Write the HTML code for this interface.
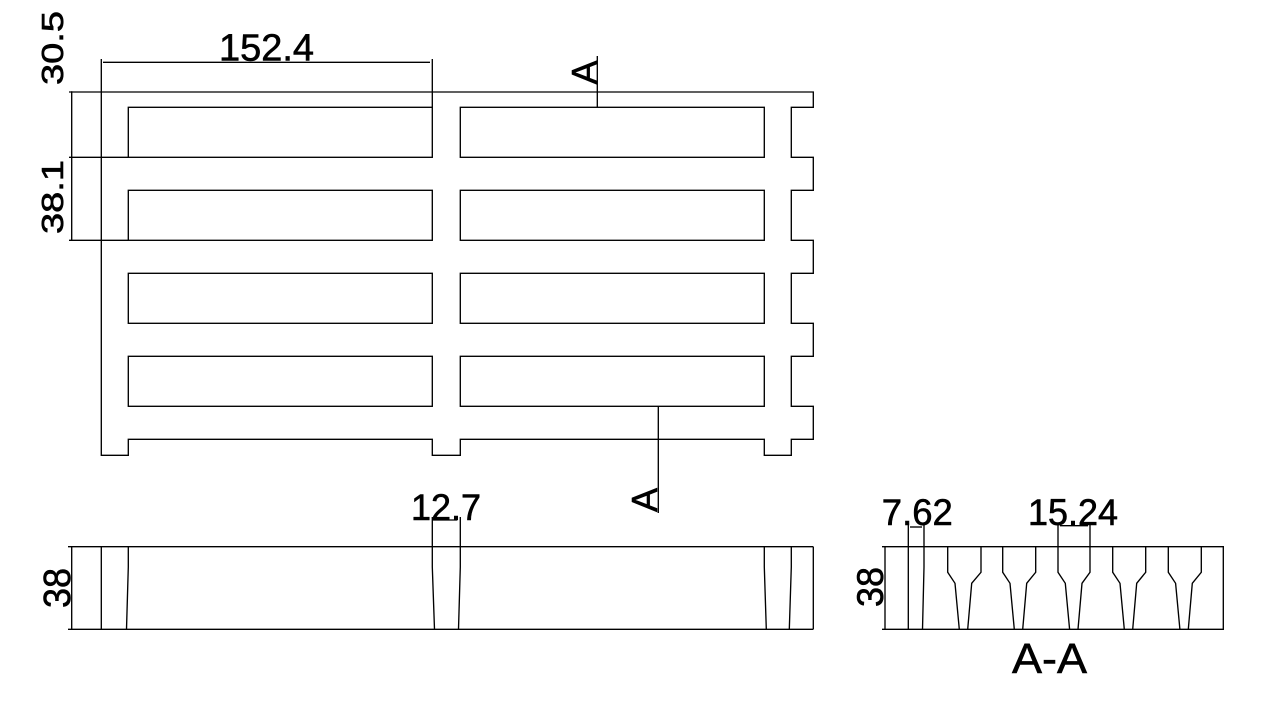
<!DOCTYPE html>
<html>
<head>
<meta charset="utf-8">
<style>
html,body{margin:0;padding:0;background:#fff;}
svg{display:block;}
text{font-family:"Liberation Sans",Arial,sans-serif;fill:#000;stroke:#000;stroke-width:0.6;}
</style>
</head>
<body>
<svg width="1280" height="709" viewBox="0 0 1280 709" xmlns="http://www.w3.org/2000/svg">
<g fill="none" stroke="#000" stroke-width="1.35">
  <!-- PLAN VIEW outline -->
  <path d="M101.3 92 H813.3 V107.3 H791.3 V157.3 H813.3 V190.3 H791.3 V240.3 H813.3 V273.3 H791.3 V323.3 H813.3 V356.3 H791.3 V406.3 H813.3 V439.3 H791.3 V455.3 H764.3 V439.3 H460.3 V455.3 H432.3 V439.3 H128.3 V455.3 H101.3 Z"/>
  <!-- slots -->
  <rect x="128.3" y="107.3" width="304" height="50"/>
  <rect x="460.3" y="107.3" width="304" height="50"/>
  <rect x="128.3" y="190.3" width="304" height="50"/>
  <rect x="460.3" y="190.3" width="304" height="50"/>
  <rect x="128.3" y="273.3" width="304" height="50"/>
  <rect x="460.3" y="273.3" width="304" height="50"/>
  <rect x="128.3" y="356.3" width="304" height="50"/>
  <rect x="460.3" y="356.3" width="304" height="50"/>

  <!-- dimension/extension lines plan -->
  <path d="M69 92 H101.3"/>
  <path d="M69 157.3 H128.3"/>
  <path d="M69 240.3 H128.3"/>
  <path d="M71.7 91.3 V240.3"/>
  <path d="M101.3 59 V92"/>
  <path d="M432.3 59 V107.3"/>
  <path d="M103 62.3 H430"/>
  <!-- section markers -->
  <path d="M597.3 56 V107.3"/>
  <path d="M658.3 406.3 V513"/>

  <!-- SIDE VIEW -->
  <path d="M68 546.7 H813.3"/>
  <path d="M68 629.3 H813.3"/>
  <path d="M71.7 546.7 V629.3"/>
  <path d="M101.3 546.7 V629.3"/>
  <path d="M813.3 546.7 V629.3"/>
  <path d="M128.3 546.7 V567 L126.5 629.3"/>
  <path d="M432.3 517 V567 L434.5 629.3"/>
  <path d="M460.3 517 V567 L458.5 629.3"/>
  <path d="M764.3 546.7 V567 L766.3 629.3"/>
  <path d="M791.3 546.7 V567 L789.3 629.3"/>
  <path d="M433 520 H457"/>

  <!-- SECTION A-A -->
  <path d="M882 546.7 H1223.3 V629.3 H882"/>
  <path d="M885 546.7 V629.3"/>
  <path d="M908.3 523 V629.3"/>
  <path d="M924 523 V567 L922.5 629.3"/>
  <path d="M910 527 H922"/>
  <path d="M1060 525.7 H1088"/>
  <path d="M1058 523 V546.7"/>
  <path d="M1090 523 V546.7"/>
  <!-- funnels -->
  <path d="M947.7 546.7 V572.3 L955 583.3 L959.3 629.3"/>
  <path d="M981 546.7 V572.3 L971.7 583.3 L967.7 629.3"/>
  <path d="M1002.7 546.7 V572.3 L1010 583.3 L1014.3 629.3"/>
  <path d="M1035.7 546.7 V572.3 L1026.7 583.3 L1022.7 629.3"/>
  <path d="M1058 546.7 V572.3 L1065.3 583.3 L1069.6 629.3"/>
  <path d="M1090 546.7 V572.3 L1082 583.3 L1078 629.3"/>
  <path d="M1112.7 546.7 V572.3 L1120 583.3 L1124.3 629.3"/>
  <path d="M1145.7 546.7 V572.3 L1136.7 583.3 L1132.7 629.3"/>
  <path d="M1168.3 546.7 V572.3 L1175.6 583.3 L1179.9 629.3"/>
  <path d="M1201.3 546.7 V572.3 L1192.3 583.3 L1188.3 629.3"/>
</g>

<!-- TEXT -->
<text x="266.5" y="60.5" font-size="38" text-anchor="middle" textLength="95" lengthAdjust="spacingAndGlyphs">152.4</text>
<text transform="translate(63,48) rotate(-90)" font-size="31" text-anchor="middle" textLength="74" lengthAdjust="spacingAndGlyphs">30.5</text>
<text transform="translate(63,197) rotate(-90)" font-size="31" text-anchor="middle" textLength="74" lengthAdjust="spacingAndGlyphs">38.1</text>
<text transform="translate(597,72.5) rotate(-90)" font-size="36" text-anchor="middle">A</text>
<text transform="translate(657,500) rotate(-90)" font-size="36" text-anchor="middle">A</text>
<text x="446" y="520" font-size="37" text-anchor="middle" textLength="70" lengthAdjust="spacingAndGlyphs">12.7</text>
<text transform="translate(70,588) rotate(-90)" font-size="38" text-anchor="middle" textLength="40" lengthAdjust="spacingAndGlyphs">38</text>
<text transform="translate(883,587) rotate(-90)" font-size="37" text-anchor="middle" textLength="40" lengthAdjust="spacingAndGlyphs">38</text>
<text x="917.3" y="525" font-size="37" text-anchor="middle" textLength="71" lengthAdjust="spacingAndGlyphs">7.62</text>
<text x="1073" y="525" font-size="37" text-anchor="middle" textLength="90" lengthAdjust="spacingAndGlyphs">15.24</text>
<text x="1049.5" y="673" font-size="43" text-anchor="middle" textLength="75" lengthAdjust="spacingAndGlyphs">A-A</text>
</svg>
</body>
</html>
